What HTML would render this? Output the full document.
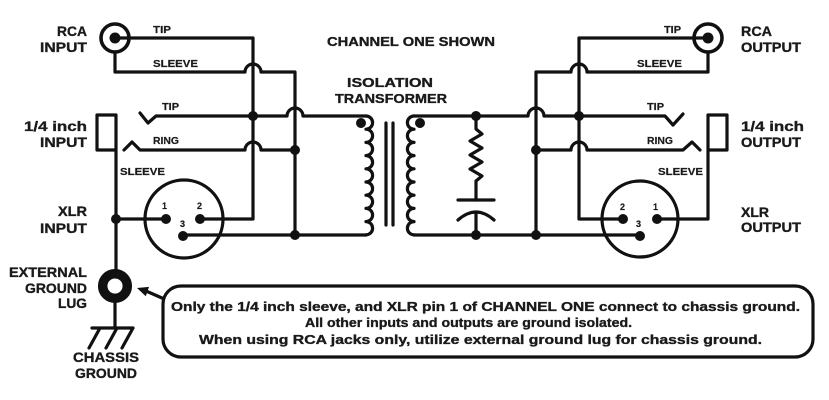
<!DOCTYPE html>
<html><head><meta charset="utf-8"><style>
html,body{margin:0;padding:0;background:#fff;}
svg{display:block;}
text{font-family:"Liberation Sans",Arial,sans-serif;font-weight:bold;fill:#1a1a1a;stroke:#1a1a1a;stroke-width:0.35px;}
.s{font-size:10px;stroke-width:0.2px;}
.m{font-size:14px;}
.b{font-size:13px;}
</style></head><body>
<svg width="829" height="400" viewBox="0 0 829 400" xmlns="http://www.w3.org/2000/svg">
<rect width="829" height="400" fill="#fff"/>
<g fill="none" stroke="#111" stroke-width="3.2" stroke-linejoin="round" stroke-linecap="round">
<!-- INPUT SIDE -->
<circle cx="115" cy="38" r="14" stroke-width="3.6"/>
<path d="M115 38 H253 V219 H200"/>
<path d="M115 52 V72 H245 A8 8 0 0 1 261 72 H295 V235"/>
<path d="M140 113 L148 123 L156 116 H287 A8 8 0 0 1 303 116 H366"/>
<path d="M124 150 L132 142 L140 150 H245 A8 8 0 0 1 261 150 H295"/>
<path d="M116 150 H97 V115 H116 V277"/>
<path d="M116 219 H166"/>
<path d="M183 235 H366"/>
<circle cx="184" cy="219" r="39"/>
<!-- Transformer primary -->
<path d="M366 116 a6.6 6.6 0 0 1 0 13.2 a6.6 6.6 0 0 1 0 13.2 a6.6 6.6 0 0 1 0 13.2 a6.6 6.6 0 0 1 0 13.2 a6.6 6.6 0 0 1 0 13.2 a6.6 6.6 0 0 1 0 13.2 a6.6 6.6 0 0 1 0 13.2 a6.6 6.6 0 0 1 0 13.2 a6.6 6.6 0 0 1 0 13.2"/>
<path d="M386 123 V225 M393 123 V225"/>
<!-- secondary -->
<path d="M414 116 a6.6 6.6 0 0 0 0 13.2 a6.6 6.6 0 0 0 0 13.2 a6.6 6.6 0 0 0 0 13.2 a6.6 6.6 0 0 0 0 13.2 a6.6 6.6 0 0 0 0 13.2 a6.6 6.6 0 0 0 0 13.2 a6.6 6.6 0 0 0 0 13.2 a6.6 6.6 0 0 0 0 13.2 a6.6 6.6 0 0 0 0 13.2"/>
<path d="M414 116 H528 A8 8 0 0 1 544 116 H665 L673 125 L683 114"/>
<path d="M414 235 H640"/>
<!-- RC network -->
<path d="M476 116 V129 L482 134 L470 141 L482 148 L470 155 L482 162 L470 169 L482 176 L476 181 V200"/>
<path d="M458 200 H494"/>
<path d="M458 220 Q476 204 494 220"/>
<path d="M476 212 V235"/>
<!-- OUTPUT SIDE -->
<circle cx="708" cy="38" r="14" stroke-width="3.6"/>
<path d="M708 38 H579 V219 H623"/>
<path d="M708 52 V72 H587 A8 8 0 0 0 571 72 H536 V235"/>
<path d="M536 150 H571 A8 8 0 0 1 587 150 H683 L692 142 L700 150"/>
<path d="M708 219 H657 M708 219 V150 H727 V115 H708 V150"/>
<circle cx="640" cy="219" r="38"/>
<!-- Ground lug -->
<circle cx="115" cy="286" r="12.3" stroke-width="9.5"/>
<path d="M115 300 V328 M92 328 H133 M100 328 L89 348 M117 328 L106 348 M133 328 L122 348"/>
<!-- Arrow -->
<path d="M162 298 L146 291"/>
<!-- Box -->
<rect x="163" y="286" width="650" height="71" rx="18" ry="18"/>
</g>
<g fill="#111">
<circle cx="115" cy="38" r="5.5"/>
<circle cx="708" cy="38" r="5.5"/>
<circle cx="253" cy="116" r="5"/>
<circle cx="295" cy="150" r="5"/>
<circle cx="295" cy="235" r="5"/>
<circle cx="116" cy="219" r="5"/>
<circle cx="166" cy="219" r="5"/>
<circle cx="200" cy="219" r="5"/>
<circle cx="183" cy="236" r="5"/>
<circle cx="361" cy="123" r="5"/>
<circle cx="420" cy="123" r="5"/>
<circle cx="476" cy="116" r="5"/>
<circle cx="476" cy="235" r="5"/>
<circle cx="536" cy="150" r="5"/>
<circle cx="536" cy="235" r="5"/>
<circle cx="579" cy="116" r="5"/>
<circle cx="623" cy="219" r="5"/>
<circle cx="657" cy="219" r="5"/>
<circle cx="640" cy="236" r="5"/>
<polygon points="137,288 145.8,296.3 149,286.9"/>
</g>
<!-- Left labels -->
<text class="m" x="57" y="36" textLength="30" lengthAdjust="spacingAndGlyphs">RCA</text>
<text class="m" x="40" y="52" textLength="47" lengthAdjust="spacingAndGlyphs">INPUT</text>
<text class="m" x="24" y="131" textLength="63" lengthAdjust="spacingAndGlyphs">1/4 inch</text>
<text class="m" x="40" y="147" textLength="47" lengthAdjust="spacingAndGlyphs">INPUT</text>
<text class="m" x="58" y="216" textLength="29" lengthAdjust="spacingAndGlyphs">XLR</text>
<text class="m" x="40" y="233" textLength="47" lengthAdjust="spacingAndGlyphs">INPUT</text>
<text class="m" x="9" y="277" textLength="78" lengthAdjust="spacingAndGlyphs">EXTERNAL</text>
<text class="m" x="25" y="293" textLength="62" lengthAdjust="spacingAndGlyphs">GROUND</text>
<text class="m" x="58" y="308" textLength="29" lengthAdjust="spacingAndGlyphs">LUG</text>
<text class="m" x="73" y="362" textLength="66" lengthAdjust="spacingAndGlyphs">CHASSIS</text>
<text class="m" x="75" y="378" textLength="62" lengthAdjust="spacingAndGlyphs">GROUND</text>
<!-- Right labels -->
<text class="m" x="741" y="36" textLength="31" lengthAdjust="spacingAndGlyphs">RCA</text>
<text class="m" x="741" y="52" textLength="60" lengthAdjust="spacingAndGlyphs">OUTPUT</text>
<text class="m" x="741" y="131" textLength="63" lengthAdjust="spacingAndGlyphs">1/4 inch</text>
<text class="m" x="741" y="147" textLength="60" lengthAdjust="spacingAndGlyphs">OUTPUT</text>
<text class="m" x="741" y="217" textLength="28" lengthAdjust="spacingAndGlyphs">XLR</text>
<text class="m" x="741" y="232" textLength="60" lengthAdjust="spacingAndGlyphs">OUTPUT</text>
<!-- Titles -->
<text class="b" x="327" y="46" textLength="168" lengthAdjust="spacingAndGlyphs">CHANNEL ONE SHOWN</text>
<text class="b" x="347" y="87" textLength="86" lengthAdjust="spacingAndGlyphs">ISOLATION</text>
<text class="b" x="335" y="103" textLength="112" lengthAdjust="spacingAndGlyphs">TRANSFORMER</text>
<!-- small labels -->
<text class="s" x="153" y="33" textLength="18" lengthAdjust="spacingAndGlyphs">TIP</text>
<text class="s" x="153" y="67" textLength="45" lengthAdjust="spacingAndGlyphs">SLEEVE</text>
<text class="s" x="162" y="110" textLength="17" lengthAdjust="spacingAndGlyphs">TIP</text>
<text class="s" x="153" y="144" textLength="26" lengthAdjust="spacingAndGlyphs">RING</text>
<text class="s" x="120" y="175" textLength="45" lengthAdjust="spacingAndGlyphs">SLEEVE</text>
<text class="s" x="664" y="33" textLength="17" lengthAdjust="spacingAndGlyphs">TIP</text>
<text class="s" x="637" y="67" textLength="45" lengthAdjust="spacingAndGlyphs">SLEEVE</text>
<text class="s" x="647" y="110" textLength="17" lengthAdjust="spacingAndGlyphs">TIP</text>
<text class="s" x="647" y="144" textLength="26" lengthAdjust="spacingAndGlyphs">RING</text>
<text class="s" x="658" y="175" textLength="45" lengthAdjust="spacingAndGlyphs">SLEEVE</text>
<!-- pin numbers -->
<text class="s" x="162" y="209" style="font-size:9px">1</text>
<text class="s" x="197" y="209" style="font-size:9px">2</text>
<text class="s" x="180" y="227" style="font-size:9px">3</text>
<text class="s" x="620" y="210" style="font-size:9px">2</text>
<text class="s" x="653" y="210" style="font-size:9px">1</text>
<text class="s" x="636" y="227" style="font-size:9px">3</text>
<!-- box text -->
<text class="b" x="171" y="311" textLength="629" lengthAdjust="spacingAndGlyphs">Only the 1/4 inch sleeve, and XLR pin 1 of CHANNEL ONE connect to chassis ground.</text>
<text class="b" x="305" y="327" textLength="327" lengthAdjust="spacingAndGlyphs">All other inputs and outputs are ground isolated.</text>
<text class="b" x="199" y="344" textLength="563" lengthAdjust="spacingAndGlyphs">When using RCA jacks only, utilize external ground lug for chassis ground.</text>
</svg>
</body></html>
